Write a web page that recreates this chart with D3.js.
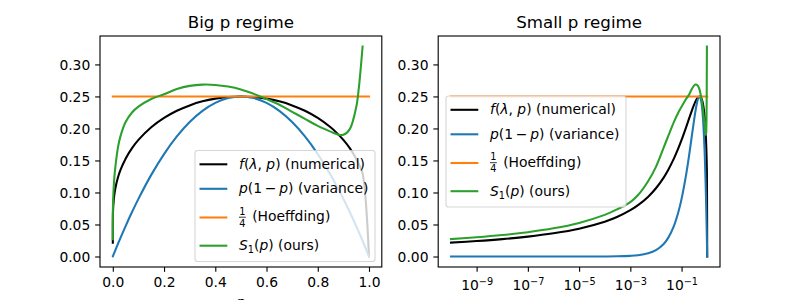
<!DOCTYPE html>
<html>
<head>
<meta charset="utf-8">
<script src="https://cdn.jsdelivr.net/npm/d3@7"></script>
<style>
  body { margin: 0; background: #fff; }
  svg text { font-family: "DejaVu Sans", sans-serif; }
</style>
</head>
<body>
<svg id="chart" width="800" height="300"></svg>
<script>
/* ---------- data ---------- */
const pGrid = [1e-10, 1e-9, 1e-8, 1e-7, 1e-6, 1e-5, 1e-4, 3e-4, 1e-3, 2e-3, 5e-3,
  0.01, 0.02, 0.03, 0.05, 0.075, 0.1, 0.15, 0.2, 0.25, 0.3, 0.35, 0.4, 0.45, 0.5,
  0.55, 0.6, 0.65, 0.7, 0.75, 0.8, 0.85, 0.875, 0.9, 0.925, 0.95, 0.96, 0.975, 1.0];

// f(lambda, p), numerical
const numerical = [0.0217, 0.0241, 0.0271, 0.0310, 0.0362, 0.0434, 0.0543, 0.0616, 0.0723, 0.0802, 0.0935,
  0.1066, 0.1233, 0.1352, 0.1528, 0.1692, 0.1821, 0.2018, 0.2164, 0.2276, 0.2360, 0.2423, 0.2466, 0.2492, 0.2500,
  0.2492, 0.2466, 0.2423, 0.2360, 0.2276, 0.2164, 0.2018, 0.1927, 0.1821, 0.1692, 0.1528, 0.1447, 0.1297, 0.0];

// p(1 - p), variance
const variance = [0.0, 0.0, 0.0, 0.0, 0.000001, 0.00001, 0.0001, 0.0003, 0.0010, 0.0020, 0.0050,
  0.0099, 0.0196, 0.0291, 0.0475, 0.0694, 0.0900, 0.1275, 0.1600, 0.1875, 0.2100, 0.2275, 0.2400, 0.2475, 0.2500,
  0.2475, 0.2400, 0.2275, 0.2100, 0.1875, 0.1600, 0.1275, 0.1094, 0.0900, 0.0694, 0.0475, 0.0384, 0.0244, 0.0];

// S_1(p), ours
const ours = [0.0272, 0.0300, 0.0335, 0.0380, 0.0440, 0.0525, 0.0650, 0.0735, 0.0850, 0.0960, 0.1180,
  0.1400, 0.1700, 0.1880, 0.2100, 0.2250, 0.2340, 0.2460, 0.2535, 0.2615, 0.2665, 0.2685, 0.2680, 0.2655, 0.2610,
  0.2540, 0.2460, 0.2370, 0.2260, 0.2150, 0.2040, 0.1950, 0.1910, 0.1900, 0.1990, 0.2330, 0.2620, 0.3280, null];

// 1/4, Hoeffding
const hoeffdingP = [1e-10, 1.0];
const hoeffding = [0.25, 0.25];

const yTicks = [0, 0.05, 0.10, 0.15, 0.20, 0.25, 0.30];
const xTicksBig = [0, 0.2, 0.4, 0.6, 0.8, 1.0];
const xTicksSmall = [1e-9, 1e-7, 1e-5, 1e-3, 1e-1];
const titles = ["Big p regime", "Small p regime"];

/* ---------- setup ---------- */
const svg = d3.select("#chart");
const FS = 13.89;          // 10pt
const LW = 2.08;           // 1.5pt line
const axTop = 36, axBottom = 267;

const y = d3.scaleLinear().domain([-0.0164, 0.3444]).range([axBottom, axTop]);

const series = [
  { key: "numerical", color: "#000000", xs: pGrid, ys: numerical },
  { key: "variance", color: "#1f77b4", xs: pGrid, ys: variance },
  { key: "hoeffding", color: "#ff7f0e", xs: hoeffdingP, ys: hoeffding },
  { key: "ours", color: "#2ca02c", xs: pGrid, ys: ours }
];

const legendRows = [
  [{ t: "f", i: 1 }, { t: "(" }, { t: "λ", i: 1 }, { t: ", " }, { t: "p", i: 1 }, { t: ")" }, { t: " (numerical)" }],
  [{ t: "p", i: 1 }, { t: "(1\u2009−\u2009" }, { t: "p", i: 1 }, { t: ")" }, { t: " (variance)" }],
  "frac",
  [{ t: "S", i: 1 }, { t: "1", sub: 1 }, { t: "(", dy: -3 }, { t: "p", i: 1 }, { t: ")" }, { t: " (ours)" }]
];
const rowOffsets = [13.8, 38.3, 67.0, 95.2];

const panels = [
  { x: d3.scaleLinear().domain([-0.05, 1.05]).range([100, 381.8]), left: 100, right: 381.8,
    ticks: xTicksBig, log: false, legend: [195, 150.5] },
  { x: d3.scaleLog().domain([Math.pow(10, -10.5), Math.pow(10, 0.5)]).range([438.2, 720]), left: 438.2, right: 720,
    ticks: xTicksSmall, log: true, legend: [446, 96] }
];

function addLabel(g, x, yy, parts) {
  const t = g.append("text").attr("x", x).attr("y", yy).attr("font-size", FS).attr("fill", "#000")
    .attr("xml:space", "preserve");
  parts.forEach(p => {
    const s = t.append("tspan").text(p.t);
    if (p.i) s.attr("font-style", "italic");
    if (p.sub) s.attr("font-size", 9.72).attr("dy", 3);
    if (p.dy) s.attr("dy", p.dy);
  });
}

function drawLegend(lx, ly) {
  const g = svg.append("g");
  g.append("rect")
    .attr("x", lx).attr("y", ly).attr("width", 180).attr("height", 111).attr("rx", 2.8)
    .attr("fill", "#fff").attr("fill-opacity", 0.8)
    .attr("stroke", "#cccccc").attr("stroke-opacity", 0.8).attr("stroke-width", 1.11);
  series.forEach((s, i) => {
    const hy = ly + rowOffsets[i];
    g.append("line")
      .attr("x1", lx + 4.5).attr("x2", lx + 32.3).attr("y1", hy).attr("y2", hy)
      .attr("stroke", s.color).attr("stroke-width", LW);
    const tx = lx + 44;
    if (legendRows[i] === "frac") {
      const bar = hy - 0.3;
      g.append("text").attr("x", tx + 3.4).attr("y", bar - 2.4).attr("font-size", 9.72)
        .attr("text-anchor", "middle").text("1");
      g.append("line").attr("x1", tx).attr("x2", tx + 6.8).attr("y1", bar).attr("y2", bar)
        .attr("stroke", "#000").attr("stroke-width", 0.8);
      g.append("text").attr("x", tx + 3.4).attr("y", bar + 9.3).attr("font-size", 9.72)
        .attr("text-anchor", "middle").text("4");
      addLabel(g, tx + 13.2, hy + 3.8, [{ t: "(Hoeffding)" }]);
    } else {
      addLabel(g, tx, hy + 4.6, legendRows[i]);
    }
  });
}

panels.forEach((P, k) => {
  const x = P.x;
  const g = svg.append("g");

  // curves
  series.forEach(s => {
    const pts = s.xs.map((v, i) => [v, s.ys[i]]);
    const line = d3.line()
      .defined(d => d[1] != null)
      .x(d => x(d[0])).y(d => y(d[1]))
      .curve(d3.curveCatmullRom.alpha(0.5));
    g.append("path").datum(pts).attr("d", line)
      .attr("fill", "none").attr("stroke", s.color).attr("stroke-width", LW)
      .attr("stroke-linejoin", "round").attr("stroke-linecap", "square");
  });

  // y axis
  const gy = svg.append("g").attr("transform", `translate(${P.left},0)`)
    .call(d3.axisLeft(y).tickValues(yTicks).tickFormat(d3.format(".2f")).tickSize(4.86).tickPadding(4.86));
  gy.select(".domain").remove();
  gy.selectAll(".tick line").attr("stroke", "#000").attr("stroke-width", 1.11);
  gy.selectAll(".tick text").attr("font-size", FS).attr("font-family", "DejaVu Sans").attr("fill", "#000").attr("dy", "0.36em");

  // x axis
  const ax = d3.axisBottom(x).tickValues(P.ticks).tickSize(4.86).tickPadding(4.86);
  if (P.log) ax.tickFormat(() => ""); else ax.tickFormat(d3.format(".1f"));
  const gx = svg.append("g").attr("transform", `translate(0,${axBottom})`).call(ax);
  gx.select(".domain").remove();
  gx.selectAll(".tick line").attr("stroke", "#000").attr("stroke-width", 1.11);
  gx.selectAll(".tick text").attr("font-size", FS).attr("font-family", "DejaVu Sans").attr("fill", "#000").attr("dy", "0.76em");
  if (P.log) {
    gx.selectAll(".tick text").attr("dy", 13.3).each(function (d) {
      const t = d3.select(this);
      const e = Math.round(Math.log10(d));
      t.append("tspan").text("10");
      t.append("tspan").attr("font-size", 9.72).attr("dy", -5).text("−" + Math.abs(e));
    });
  }

  // frame
  svg.append("rect").attr("x", P.left).attr("y", axTop)
    .attr("width", P.right - P.left).attr("height", axBottom - axTop)
    .attr("fill", "none").attr("stroke", "#000").attr("stroke-width", 1.11);

  // title
  svg.append("text").attr("x", (P.left + P.right) / 2).attr("y", 27.7)
    .attr("text-anchor", "middle").attr("font-size", 16.67).attr("fill", "#000").text(titles[k]);

  drawLegend(P.legend[0], P.legend[1]);
});

// x label of the left panel, mostly below the visible area (as in the reference)
svg.append("text").attr("x", 240.9).attr("y", 306.5).attr("text-anchor", "middle")
  .attr("font-size", FS).attr("font-style", "italic").attr("fill", "#000").text("p");
</script>
</body>
</html>
